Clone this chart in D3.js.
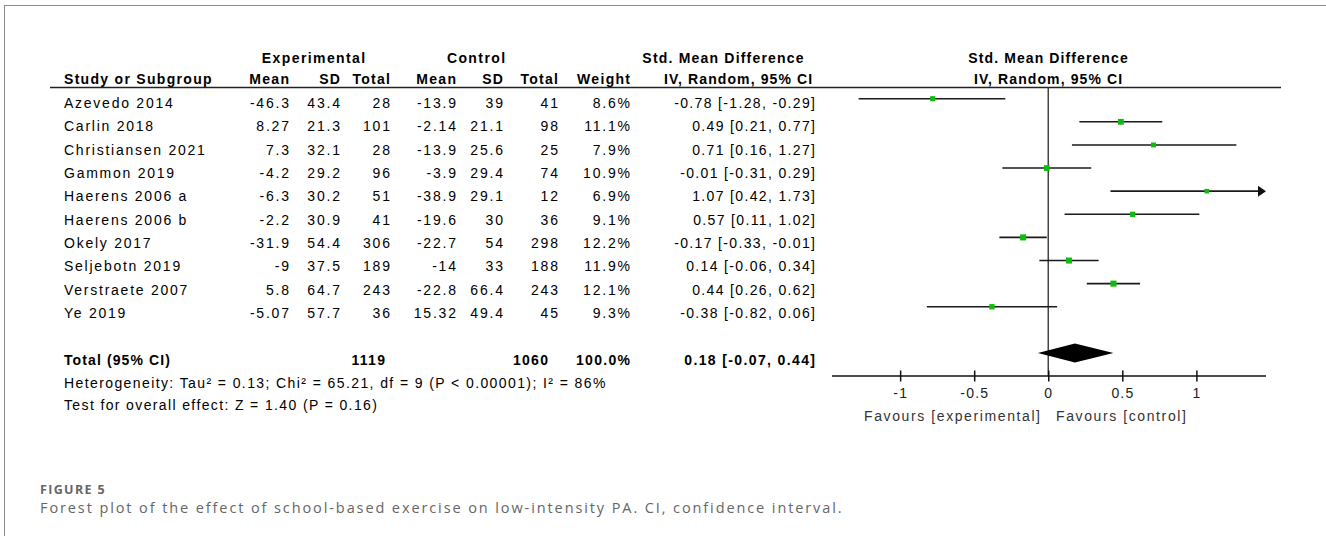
<!DOCTYPE html>
<html>
<head>
<meta charset="utf-8">
<script src="https://cdn.jsdelivr.net/npm/d3@7"></script>
<style>
  html, body { margin: 0; padding: 0; background: #fff; }
  svg { display: block; }
  text { font-family: "Liberation Sans", Arial, sans-serif; font-size: 14px; fill: #000; }
  .b { font-weight: bold; }
  .cap { font-family: "Open Sans", sans-serif; fill: #666; }
</style>
</head>
<body>
<svg id="chart" width="1326" height="536"></svg>
<script>
// ---------------- data ----------------
const studies = ["Azevedo 2014", "Carlin 2018", "Christiansen 2021", "Gammon 2019", "Haerens 2006 a",
                 "Haerens 2006 b", "Okely 2017", "Seljebotn 2019", "Verstraete 2007", "Ye 2019"];
const expMean   = [-46.3, 8.27, 7.3, -4.2, -6.3, -2.2, -31.9, -9, 5.8, -5.07];
const expSD     = [43.4, 21.3, 32.1, 29.2, 30.2, 30.9, 54.4, 37.5, 64.7, 57.7];
const expTotal  = [28, 101, 28, 96, 51, 41, 306, 189, 243, 36];
const ctrlMean  = [-13.9, -2.14, -13.9, -3.9, -38.9, -19.6, -22.7, -14, -22.8, 15.32];
const ctrlSD    = [39, 21.1, 25.6, 29.4, 29.1, 30, 54, 33, 66.4, 49.4];
const ctrlTotal = [41, 98, 25, 74, 12, 36, 298, 188, 243, 45];
const weight    = [8.6, 11.1, 7.9, 10.9, 6.9, 9.1, 12.2, 11.9, 12.1, 9.3];
const smd       = [-0.78, 0.49, 0.71, -0.01, 1.07, 0.57, -0.17, 0.14, 0.44, -0.38];
const ciLow     = [-1.28, 0.21, 0.16, -0.31, 0.42, 0.11, -0.33, -0.06, 0.26, -0.82];
const ciHigh    = [-0.29, 0.77, 1.27, 0.29, 1.73, 1.02, -0.01, 0.34, 0.62, 0.06];
const totalExp = 1119, totalCtrl = 1060, totalWeight = 100.0;
const totalSmd = 0.18, totalLow = -0.07, totalHigh = 0.44;
const axisTicks = [-1, -0.5, 0, 0.5, 1];
const heterogeneityText = "Heterogeneity: Tau\u00B2 = 0.13; Chi\u00B2 = 65.21, df = 9 (P < 0.00001); I\u00B2 = 86%";
const overallText = "Test for overall effect: Z = 1.40 (P = 0.16)";
const favourLeft = "Favours [experimental]", favourRight = "Favours [control]";
const figLabel = "FIGURE 5";
const captionText = "Forest plot of the effect of school-based exercise on low-intensity PA. CI, confidence interval.";

// ---------------- layout ----------------
const svg = d3.select("#chart");
const x = d3.scaleLinear().domain([-1.46, 1.47]).range([832, 1266]);
const rowLine = d3.scaleLinear().domain([0, 11]).range([98.7, 353]);   // marks
const rowText = d3.scaleLinear().domain([0, 11]).range([108, 364.5]);  // text baselines
const idx = d3.range(studies.length);

function txt(sx, sy, s, opts = {}) {
  const ls = opts.ls ?? 1.7;
  const anchor = opts.anchor || "start";
  const shift = anchor === "end" ? ls : anchor === "middle" ? ls / 2 : 0;
  return svg.append("text")
    .attr("x", sx + shift).attr("y", sy)
    .attr("text-anchor", anchor)
    .attr("class", opts.cls || null)
    .style("letter-spacing", ls + "px")
    .style("font-size", opts.size ? opts.size + "px" : null)
    .style("fill", opts.fill || null)
    .text(s);
}

// frame
svg.append("line").attr("x1", 4).attr("x2", 1326).attr("y1", 5.5).attr("y2", 5.5)
  .attr("stroke", "#8c8c8c").attr("stroke-width", 1);
svg.append("line").attr("x1", 4.5).attr("x2", 4.5).attr("y1", 5).attr("y2", 536)
  .attr("stroke", "#8c8c8c").attr("stroke-width", 1);

// header
txt(313.5, 63, "Experimental", { anchor: "middle", cls: "b", ls: 1.4 });
txt(476, 63, "Control", { anchor: "middle", cls: "b", ls: 1.4 });
txt(723, 63, "Std. Mean Difference", { anchor: "middle", cls: "b", ls: 1.2 });
txt(1048, 63, "Std. Mean Difference", { anchor: "middle", cls: "b", ls: 1.1 });

const cols = [
  { h: "Mean", r: 289, v: expMean.map(String) },
  { h: "SD", r: 340, v: expSD.map(String) },
  { h: "Total", r: 390, v: expTotal.map(String) },
  { h: "Mean", r: 456, v: ctrlMean.map(String) },
  { h: "SD", r: 503, v: ctrlSD.map(String) },
  { h: "Total", r: 558, v: ctrlTotal.map(String) },
  { h: "Weight", r: 630, v: weight.map(w => w.toFixed(1) + "%") },
];
txt(64, 84, "Study or Subgroup", { cls: "b", ls: 1.3 });
cols.forEach(c => txt(c.r, 84, c.h, { anchor: "end", cls: "b", ls: 1.3 }));
txt(738, 84, "IV, Random, 95% CI", { anchor: "middle", cls: "b", ls: 1.1 });
txt(1048, 84, "IV, Random, 95% CI", { anchor: "middle", cls: "b", ls: 1.1 });

svg.append("line").attr("x1", 50).attr("x2", 1281).attr("y1", 87.5).attr("y2", 87.5)
  .attr("stroke", "#222").attr("stroke-width", 1.3);

// rows
idx.forEach(i => {
  const y = rowText(i);
  txt(64, y, studies[i], { ls: 1.75 });
  cols.forEach(c => txt(c.r, y, c.v[i], { anchor: "end", ls: 1.8 }));
  txt(815, y, smd[i].toFixed(2) + " [" + ciLow[i].toFixed(2) + ", " + ciHigh[i].toFixed(2) + "]",
      { anchor: "end", ls: 1.35 });
});

// totals
const yT = rowText(11);
txt(64, yT, "Total (95% CI)", { cls: "b", ls: 1.1 });
txt(385, yT, String(totalExp), { anchor: "end", cls: "b", ls: 1.3 });
txt(548, yT, String(totalCtrl), { anchor: "end", cls: "b", ls: 1.3 });
txt(630, yT, totalWeight.toFixed(1) + "%", { anchor: "end", cls: "b", ls: 1.3 });
txt(815, yT, totalSmd.toFixed(2) + " [" + totalLow.toFixed(2) + ", " + totalHigh.toFixed(2) + "]",
    { anchor: "end", cls: "b", ls: 1.37 });
txt(64, 388, heterogeneityText, { ls: 1.4 });
txt(64, 410, overallText, { ls: 1.37 });

// ---------------- plot ----------------
const axisY = 376;
svg.append("line").attr("x1", x(0)).attr("x2", x(0)).attr("y1", 87.5).attr("y2", axisY)
  .attr("stroke", "#444").attr("stroke-width", 1.5);

const [xmin, xmax] = x.domain();
svg.append("g").selectAll("line").data(idx).join("line")
  .attr("x1", i => x(Math.max(ciLow[i], xmin)))
  .attr("x2", i => ciHigh[i] > xmax ? x(xmax) - 6 : x(ciHigh[i]))
  .attr("y1", i => rowLine(i)).attr("y2", i => rowLine(i))
  .attr("stroke", "#1a1a1a").attr("stroke-width", 1.6);

svg.append("g").selectAll("path").data(idx.filter(i => ciHigh[i] > xmax)).join("path")
  .attr("d", i => {
    const xe = x(xmax), y = rowLine(i);
    return `M${xe},${y} L${xe - 8},${y - 5.5} L${xe - 8},${y + 5.5} Z`;
  })
  .attr("fill", "#111");

svg.append("g").selectAll("rect").data(idx).join("rect")
  .attr("x", i => x(smd[i]) - 0.875 * Math.sqrt(weight[i]))
  .attr("y", i => rowLine(i) - 0.875 * Math.sqrt(weight[i]))
  .attr("width", i => 1.75 * Math.sqrt(weight[i]))
  .attr("height", i => 1.75 * Math.sqrt(weight[i]))
  .attr("fill", "#10bb10");

const yd = rowLine(11);
svg.append("path")
  .attr("d", `M${x(totalLow)},${yd} L${x(totalSmd)},${yd - 9.5} L${x(totalHigh)},${yd} L${x(totalSmd)},${yd + 9.5} Z`)
  .attr("fill", "#000");

const axis = d3.axisBottom(x).tickValues(axisTicks).tickSize(0).tickFormat(d => String(d));
const gAxis = svg.append("g").attr("transform", `translate(0,${axisY})`).call(axis);
gAxis.select(".domain").remove();
gAxis.selectAll(".tick text").remove();
svg.append("line").attr("x1", x(xmin)).attr("x2", x(xmax)).attr("y1", axisY).attr("y2", axisY)
  .attr("stroke", "#111").attr("stroke-width", 1.5);
gAxis.selectAll(".tick").append("line").attr("y1", -5.5).attr("y2", 5.5)
  .attr("stroke", "#111").attr("stroke-width", 1.5);
axisTicks.forEach(t => txt(x(t), 398, String(t), { anchor: "middle", ls: 1.2, fill: "#222" }));

txt(1040, 421, favourLeft, { anchor: "end", ls: 1.6, fill: "#333" });
txt(1056, 421, favourRight, { ls: 1.6, fill: "#333" });

// caption
txt(40, 494.3, figLabel, { cls: "cap b", ls: 1.35, size: 12.5 }).style("fill", "#666");
txt(40, 512.7, captionText, { cls: "cap", ls: 1.9, size: 14.5 }).style("fill", "#666");
</script>
</body>
</html>
